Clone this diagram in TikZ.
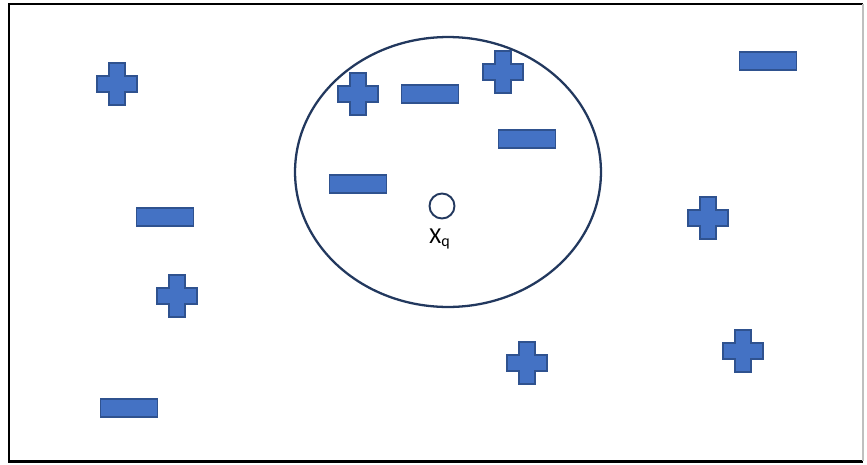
\documentclass[tikz,border=0pt]{standalone}
\usepackage{fontspec}
\setmainfont{Carlito}
\usetikzlibrary{shapes.geometric, positioning}
\definecolor{signfill}{HTML}{4472C4}
\definecolor{signline}{HTML}{2F528F}
\definecolor{ringline}{HTML}{22385E}
\tikzset{
  negsign/.style ={draw=signline, fill=signfill, line width=0.9pt,
                   minimum width=1.14cm, minimum height=0.37cm, inner sep=0pt},
  possign/.pic   ={\draw[draw=signline, fill=signfill, line width=0.9pt]
                   (-20,-8) -- (-8,-8) -- (-8,-21) -- (8,-21) -- (8,-8) -- (20,-8)
                   -- (20,8) -- (8,8) -- (8,21) -- (-8,21) -- (-8,8) -- (-20,8) -- cycle;},
  ring/.style    ={draw=ringline, line width=1.3pt, ellipse,
                   minimum width=6.12cm, minimum height=5.4cm, inner sep=0pt},
  query/.style   ={draw=ringline, line width=1.1pt, circle,
                   minimum size=0.5cm, inner sep=0pt},
  lbl/.style     ={font=\fontsize{13}{15}\selectfont, inner sep=1pt},
}

\begin{document}
\begin{tikzpicture}[x=0.02cm, y=-0.02cm]
  \useasboundingbox (0,0) rectangle (867,464);
  % frame
  \draw[line width=1.7pt] (863,4) -- (9,4) -- (9,461) -- (863,461);
  \draw[line width=1pt, black!25] (863,4) -- (863,461);

  % neighbourhood of the query point
  \node[ring]  (nbhd) at (448,172) {};
  \node[query] (xq)   at (442,206) {};
  \node[lbl, below=0.14cm of xq, xshift=-0.04cm] (xqlbl) {X$_{\mathrm{q}}$};

  % positive samples
  \pic (p1) at (117,84)  {possign};
  \pic (p2) at (358,94)  {possign};
  \pic (p3) at (503,72)  {possign};
  \pic (p4) at (708,218) {possign};
  \pic (p5) at (177,296) {possign};
  \pic (p6) at (527,363) {possign};
  \pic (p7) at (743,351) {possign};

  % negative samples
  \node[negsign] (n1) at (768,61)  {};
  \node[negsign] (n2) at (430,94)  {};
  \node[negsign] (n3) at (527,139) {};
  \node[negsign] (n4) at (358,184) {};
  \node[negsign] (n5) at (165,217) {};
  \node[negsign] (n6) at (129,408) {};
\end{tikzpicture}
\end{document}
